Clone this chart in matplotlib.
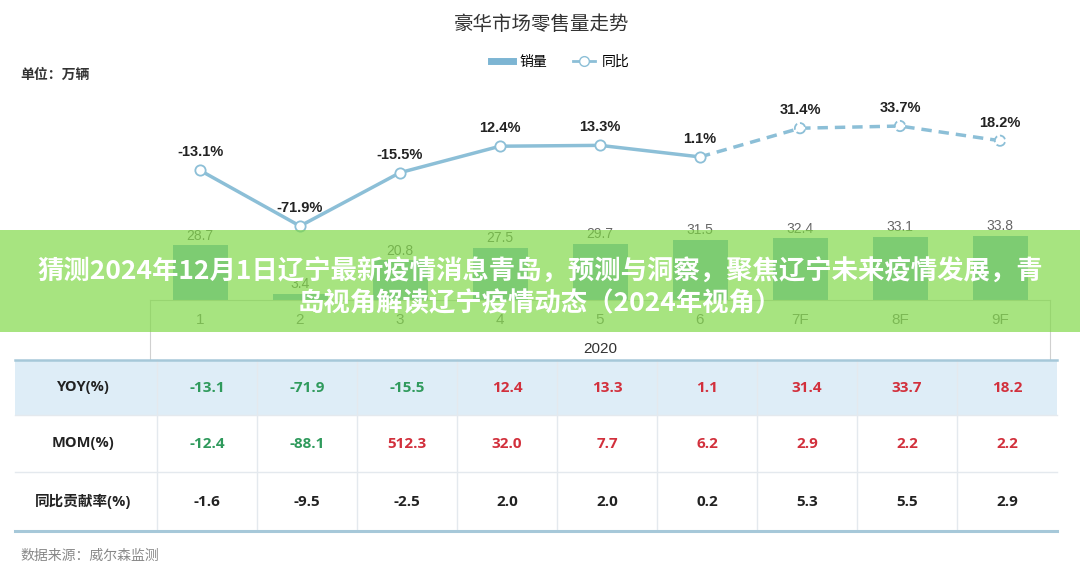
import numpy as np
import matplotlib.pyplot as plt
from matplotlib.lines import Line2D
from matplotlib.patches import Rectangle

plt.rcParams['font.family'] = ['Liberation Sans', 'Noto Sans CJK SC', 'DejaVu Sans']

# data
cats    = ['1', '2', '3', '4', '5', '6', '7F', '8F', '9F']
sales   = [28.7, 3.4, 20.8, 27.5, 29.7, 31.5, 32.4, 33.1, 33.8]     # 万辆
yoy     = [-13.1, -71.9, -15.5, 12.4, 13.3, 1.1, 31.4, 33.7, 18.2]
mom     = [-12.4, -88.1, 512.3, 32.0, 7.7, 6.2, 2.9, 2.2, 2.2]
contrib = [-1.6, -9.5, -2.5, 2.0, 2.0, 0.2, 5.3, 5.5, 2.9]
row_names = ['YOY(%)', 'MOM(%)', '同比贡献率(%)']
n_actual = 6   # months 1-6 actual, 7F-9F forecast

bar_c  = '#7db5d3'
line_c = '#8cbfd7'
red    = '#d2303c'
green  = '#2f9a5c'

W, H = 1080, 575
fx = lambda p: p / W
fy = lambda p: 1 - p / H

fig = plt.figure(figsize=(10.8, 5.75), dpi=100)
idx = np.arange(len(cats))

# bars
ax = fig.add_axes([fx(150), fy(300), fx(900), 200 / H])
ax.bar(idx, sales, width=0.55, color=bar_c, zorder=2)
for i, v in enumerate(sales):
    ax.text(i, v + 1.5, f'{v}', ha='center', va='bottom', fontsize=10, color='#666')
ax.set_xlim(-0.5, 8.5)
ax.set_ylim(0, 200 / 1.9)
ax.set_yticks([])
ax.set_xticks(idx, cats)
ax.tick_params(axis='x', length=0, pad=9, labelsize=11, labelcolor='#777')
for s in ['top', 'left', 'right']:
    ax.spines[s].set_visible(False)
ax.spines['bottom'].set_color('#d0d0d0')

# yoy line
ax2 = ax.twinx()
ax2.plot(idx[:n_actual], yoy[:n_actual], color=line_c, lw=2.5, zorder=3)
ax2.plot(idx[n_actual - 1:], yoy[n_actual - 1:], color=line_c, lw=2.5, ls=(0, (3, 2)), zorder=3)
ax2.scatter(idx[:n_actual], yoy[:n_actual], s=55, facecolor='white', edgecolor=line_c, lw=1.3, zorder=4)
ax2.scatter(idx[n_actual:], yoy[n_actual:], s=55, facecolor='white', edgecolor=line_c, lw=1.3,
            linestyle='--', zorder=4)
for i, v in enumerate(yoy):
    ax2.annotate(f'{v}%', (i, v), xytext=(0, 8), textcoords='offset points', ha='center',
                 va='bottom', fontsize=10.5, fontweight='bold', color='#222')
ax2.set_ylim(-150, 61.2)
ax2.set_yticks([])
for s in ax2.spines.values():
    s.set_visible(False)

# year band
axb = fig.add_axes([fx(150), fy(359), fx(900), 59 / H])
axb.set_xticks([])
axb.set_yticks([])
axb.patch.set_alpha(0)
axb.spines['bottom'].set_visible(False)
axb.spines['top'].set_visible(False)
for s in ['left', 'right']:
    axb.spines[s].set_color('#d0d0d0')
axb.text(0.5, 10 / 59, '2020', transform=axb.transAxes, ha='center', va='center',
         fontsize=11, color='#333')

# canvas for table, titles and banner
axt = fig.add_axes([0, 0, 1, 1])
axt.set_xlim(0, W)
axt.set_ylim(H, 0)
axt.axis('off')

axt.text(542, 25, '豪华市场零售量走势', ha='center', va='center', fontsize=14, color='#333',
         family=['Noto Sans CJK SC'])
axt.text(20, 75, '单位：万辆', ha='left', va='center', fontsize=10, color='#333',
         family=['Noto Sans CJK SC'], fontweight='bold')
axt.text(20, 556, '数据来源：威尔森监测', ha='left', va='center', fontsize=10, color='#888',
         family=['Noto Sans CJK SC'])

handles = [Line2D([], [], color=bar_c, lw=5),
           Line2D([], [], color=line_c, lw=2, marker='o', markersize=7, markerfacecolor='white')]
fig.legend(handles, ['销量', '同比'], loc='center', bbox_to_anchor=(fx(560), fy(62)), ncol=2,
           frameon=False, prop={'family': 'Noto Sans CJK SC', 'size': 10}, handlelength=1.6,
           handletextpad=0.5, columnspacing=1.8)

# table
t_left, t_right = 15, 1057
row_top = [360, 415, 472]
row_h = [55, 57, 59]
col0 = 157
axt.add_patch(Rectangle((t_left, row_top[0]), t_right - t_left, row_h[0], color='#deedf7', lw=0))
for y in row_top[1:]:
    axt.plot([t_left, t_right], [y, y], color='#e4e9ee', lw=1)
for i in range(len(cats)):
    axt.plot([col0 + 100 * i] * 2, [360, 531], color='#e4e9ee', lw=1)
axt.plot([t_left, t_right], [360, 360], color='#a6c8d9', lw=1.8)
axt.plot([t_left, t_right], [531, 531], color='#a6c8d9', lw=2.2)

rows = [yoy, mom, contrib]
for r, (name, vals) in enumerate(zip(row_names, rows)):
    yc = row_top[r] + row_h[r] / 2
    axt.text(83, yc, name, ha='center', va='center', fontsize=10.5, fontweight='bold',
             color='#222', family=['Open Sans', 'Noto Sans CJK SC'])
    for i, v in enumerate(vals):
        if r < 2:
            c = green if v < 0 else red
        else:
            c = '#222'
        axt.text(col0 + 50 + 100 * i, yc, f'{v:.1f}', ha='center', va='center', fontsize=11,
                 fontweight='bold', color=c, family=['Open Sans'])

# banner overlay
axt.add_patch(Rectangle((0, 230), W, 102, color='#7ed844', alpha=0.68, lw=0, zorder=10))
axt.text(540, 288, '猜测2024年12月1日辽宁最新疫情消息青岛，预测与洞察，聚焦辽宁未来疫情发展，青\n'
         '岛视角解读辽宁疫情动态（2024年视角）', ha='center', va='center', fontsize=19,
         fontweight='bold', color='white', family=['Noto Sans CJK SC'], linespacing=1.2,
         zorder=11)

fig.savefig('out.png', dpi=100)
